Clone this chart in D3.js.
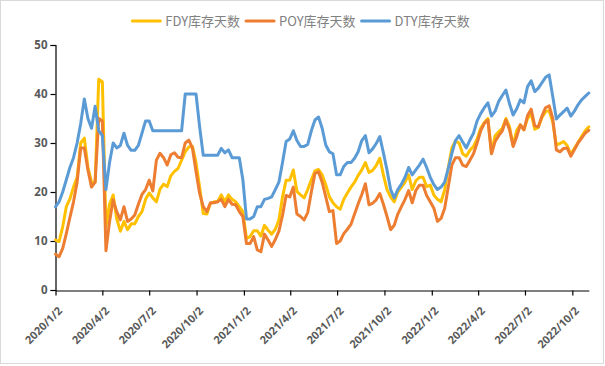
<!DOCTYPE html>
<html><head><meta charset="utf-8">
<script src="https://cdn.jsdelivr.net/npm/d3@7"></script>
<style>html,body{margin:0;padding:0;background:#fff;}svg{display:block;}</style>
</head><body>
<svg id="chart" width="605" height="366"></svg>
<script>
const seriesNames = ["FDY库存天数", "POY库存天数", "DTY库存天数"];
const seriesColors = ["#FFC000", "#ED7D31", "#5B9BD5"];
const startDate = "2020/1/2";   // first weekly observation
const tickLabels = ["2020/1/2","2020/4/2","2020/7/2","2020/10/2","2021/1/2","2021/4/2","2021/7/2","2021/10/2","2022/1/2","2022/4/2","2022/7/2","2022/10/2"];
const yTicks = [0, 10, 20, 30, 40, 50];

const fdy = [10.2, 9.9, 12.9, 17, 18.6, 21, 23, 30, 31, 25,
 22, 22, 43, 42.5, 13, 17.5, 19.4, 14.5, 12, 14,
 12.3, 13.5, 13.5, 15, 16, 18.5, 19.8, 18.8, 18, 20.6,
 21.6, 21.1, 23.3, 24.2, 24.8, 26.5, 28.2, 29.2, 29.3, 26,
 21, 15.6, 15.5, 17.7, 18, 18, 19.4, 18, 19.4, 18.5,
 18, 17, 16, 10.5, 10.9, 12.1, 12.1, 11, 13.2, 12.2,
 11.4, 12.4, 14.3, 19, 22.4, 22.4, 24.5, 20.1, 19.4, 18.8,
 20.5, 22.5, 24.3, 24.6, 23.5, 21.5, 19, 17.8, 17, 16.5,
 18.5, 19.8, 21, 22, 23.4, 24.5, 26, 24, 24.4, 25.4,
 26.9, 23.5, 20.5, 19, 18, 20, 21, 22, 23.5, 20.5,
 22.3, 23, 23, 21.1, 21.4, 19.4, 18.5, 18, 20.4, 25,
 29, 30.4, 30, 27.8, 27.3, 28.5, 29.3, 30.8, 33, 34.2,
 35, 28, 31.5, 32.3, 33, 35, 33.3, 29.5, 32.6, 33.7,
 32.7, 35, 36, 32.8, 33.2, 35.2, 36.4, 36.6, 34.3, 29.6,
 29.9, 30.3, 29.5, 27.7, 28.9, 30.1, 31.3, 32.5, 33.3];

const poy = [7.3, 6.8, 8.5, 11.5, 14.8, 18, 22, 29, 29, 24.5,
 21, 22, 35, 34.5, 8, 14, 18.4, 16, 14.3, 17,
 14, 14.5, 15.3, 17.5, 19.5, 20.5, 22.4, 20.2, 26.5, 27.9,
 27, 25.5, 27.6, 28, 27.1, 27, 30, 30.6, 29, 24.2,
 19.7, 17, 16, 17.8, 17.8, 18, 18.5, 17, 18.5, 17.5,
 17.4, 16, 15, 9.5, 9.5, 10.9, 8.2, 7.8, 11.4, 10.2,
 8.9, 10.3, 12, 15.2, 19.3, 19, 21, 15.5, 15, 14.3,
 15.8, 20, 23.8, 24.1, 22, 19, 16, 16.2, 9.5, 10,
 11.5, 12.4, 13.4, 15.5, 17.6, 19.5, 21.7, 17.4, 17.7, 18.4,
 19.7, 17.5, 15, 12.3, 13.2, 15.5, 17, 18.5, 20.3, 17.8,
 20.3, 21.4, 21.4, 19.3, 18, 16.7, 14, 14.6, 16.7, 21,
 25.5, 27, 27, 25.5, 25.2, 26.5, 27.8, 30, 32.5, 34,
 34.7, 27.8, 30.3, 31.5, 32.5, 34.7, 32.7, 29.3, 31.3, 33.7,
 32.7, 35.6, 36.9, 33.5, 33.3, 35.5, 37.2, 37.6, 35, 28.6,
 28.2, 28.9, 29, 27.3, 28.6, 30, 31, 32, 32.6];

const dty = [17, 18, 20, 22.5, 25, 27, 30, 34, 39, 35,
 33, 37.5, 32.5, 31.5, 20.5, 26, 30, 29, 29.5, 32,
 29.5, 28.5, 28.5, 29.5, 32, 34.5, 34.5, 32.5, 32.5, 32.5,
 32.5, 32.5, 32.5, 32.5, 32.5, 32.5, 40, 40, 40, 40,
 33.3, 27.5, 27.5, 27.5, 27.5, 27.5, 28.9, 28, 28.6, 27,
 27, 27, 22.5, 14.5, 14.5, 15, 17, 17, 18.5, 18.7,
 19, 20.5, 22, 26, 30.3, 30.8, 32.5, 30.5, 29.3, 29.3,
 29.7, 32.5, 34.7, 35.3, 33, 29.6, 28.2, 27.8, 23.5, 23.5,
 25.2, 26, 26, 26.9, 28.2, 30.5, 31.5, 28, 28.8, 29.9,
 31.3, 28, 24.5, 20.5, 18.8, 20.5, 21.6, 23, 25, 23.5,
 24.5, 25.5, 26.7, 25, 23, 21.5, 20.5, 21, 22, 24.8,
 27.9, 30.5, 31.5, 30.2, 29, 30.6, 32, 34.5, 36, 37.2,
 38.2, 35.5, 36.5, 38.5, 39.7, 40.8, 38, 35.7, 37, 38.8,
 38.2, 41.5, 42.7, 40.5, 41.2, 42.3, 43.4, 43.9, 39.5, 34.9,
 35.7, 36.4, 37.1, 35.5, 36.5, 37.8, 38.8, 39.5, 40.2];

const seriesValues = [fdy, poy, dty];

const parse = d3.timeParse("%Y/%m/%d");
const t0 = parse(startDate);
const dates = fdy.map((_, i) => d3.timeDay.offset(t0, 7 * i));

const svg = d3.select("#chart");
const W = 605, H = 366;
svg.append("rect").attr("x", 0.5).attr("y", 0.5).attr("width", W - 2).attr("height", H - 3)
  .attr("fill", "#fff").attr("stroke", "#d9d9d9").attr("stroke-width", 1);

const x = d3.scaleTime().domain([t0, dates[dates.length - 1]]).range([55.5, 588.8]);
const y = d3.scaleLinear().domain([0, 50]).range([290, 45]);

const fontAxis = "'Noto Sans', 'DejaVu Sans', sans-serif";

// Y axis
const yAxis = svg.append("g").attr("transform", "translate(55.5,0)")
  .call(d3.axisLeft(y).tickValues(yTicks).tickSize(5).tickPadding(3).tickFormat(d3.format("d")));
yAxis.select(".domain").attr("stroke", "#000").attr("stroke-width", 1.2);
yAxis.selectAll(".tick line").attr("stroke", "#000").attr("stroke-width", 1.2);
yAxis.selectAll(".tick text").attr("fill", "#595959").style("font-family", fontAxis)
  .style("font-size", "11.5px").style("font-weight", "bold");

// X axis
const tickDates = tickLabels.map(parse);
const xAxis = svg.append("g").attr("transform", "translate(0,290.5)")
  .call(d3.axisBottom(x).tickValues(tickDates).tickSize(5).tickSizeOuter(0)
    .tickFormat((d, i) => tickLabels[i]));
xAxis.select(".domain").attr("stroke", "#000").attr("stroke-width", 1.2);
xAxis.selectAll(".tick line").attr("stroke", "#000").attr("stroke-width", 1.2);
xAxis.selectAll(".tick text").attr("fill", "#595959").style("font-family", fontAxis)
  .style("font-size", "11px").style("font-weight", "bold")
  .attr("text-anchor", "end").attr("dy", null).attr("y", null)
  .attr("transform", "translate(7,21) rotate(-45)");

// Lines (FDY first, DTY last on top)
const line = d3.line().x((d, i) => x(dates[i])).y(d => y(d));
seriesValues.forEach((vals, k) => {
  svg.append("path").datum(vals).attr("d", line)
    .attr("fill", "none").attr("stroke", seriesColors[k]).attr("stroke-width", 3)
    .attr("stroke-linejoin", "round").attr("stroke-linecap", "round");
});

// Legend
const lg = svg.append("g");
let cx = 0;
seriesNames.forEach((name, k) => {
  const g = lg.append("g").attr("transform", `translate(${cx},0)`);
  g.append("line").attr("x1", 0).attr("x2", 28).attr("y1", 0).attr("y2", 0)
    .attr("stroke", seriesColors[k]).attr("stroke-width", 3).attr("stroke-linecap", "round");
  const t = g.append("text").attr("x", 33).attr("y", 0).attr("dy", "0.35em")
    .attr("fill", "#808080").style("font-family", "'Noto Sans CJK SC', 'Noto Sans', sans-serif")
    .style("font-size", "13px").text(name);
  cx += 33 + t.node().getComputedTextLength() + 6;
});
const total = cx - 6;
lg.attr("transform", `translate(${(301 - total / 2).toFixed(1)},21)`);
</script>
</body></html>
